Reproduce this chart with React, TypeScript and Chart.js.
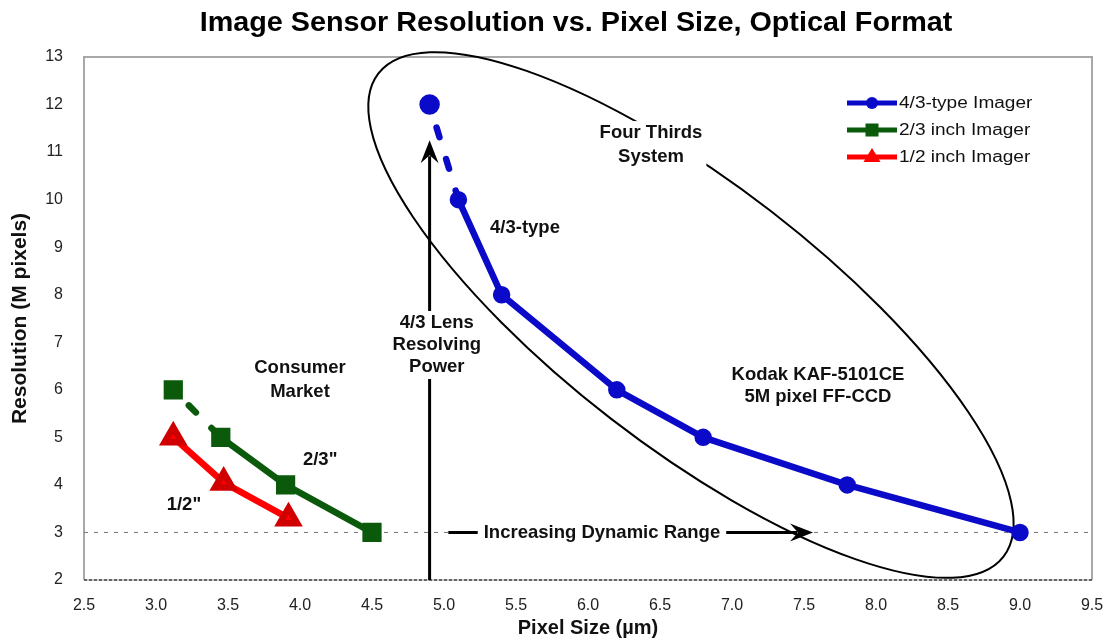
import React, { useEffect, useRef } from 'react';
import { Chart, registerables } from 'chart.js';

Chart.register(...registerables);

// ---------- data ----------
const titleText = 'Image Sensor Resolution vs. Pixel Size, Optical Format';
const xAxisTitle = 'Pixel Size (\u00b5m)';
const yAxisTitle = 'Resolution (M pixels)';
const xRange = [2.5, 9.5];
const yRange = [2, 13];
const xStep = 0.5;
const yStep = 1;

const seriesNames = ['4/3-type Imager', '2/3 inch Imager', '1/2 inch Imager'];
const seriesColors = ['#0a0ac8', '#0b5a0b', '#ff0000'];

const pixelSize43 = [4.9, 5.1, 5.4, 6.2, 6.8, 7.8, 9.0];
const resolution43 = [12, 10, 8, 6, 5, 4, 3];

const pixelSize23 = [3.12, 3.45, 3.9, 4.5];
const resolution23 = [6, 5, 4, 3];

const pixelSize12 = [3.12, 3.47, 3.92];
const resolution12 = [5, 4.05, 3.3];

const FONT = '"Liberation Sans", Arial, Helvetica, sans-serif';
const PLOT_RIGHT = 1092;

function drawText(
  ctx: CanvasRenderingContext2D,
  s: string,
  x: number,
  y: number,
  size: number,
  bold: boolean,
  sx = 1,
  align: CanvasTextAlign = 'center',
  color = '#111'
) {
  ctx.save();
  ctx.font = `${bold ? 'bold ' : ''}${size}px ${FONT}`;
  ctx.fillStyle = color;
  ctx.textAlign = align;
  ctx.textBaseline = 'middle';
  ctx.translate(x, y);
  ctx.scale(sx, 1);
  ctx.fillText(s, 0, 0);
  ctx.restore();
}

function drawLabel(
  ctx: CanvasRenderingContext2D,
  lines: string[],
  cx: number,
  cy: number,
  gap: number,
  withBox: boolean,
  padX = 5
) {
  const size = 18.5;
  ctx.save();
  ctx.font = `bold ${size}px ${FONT}`;
  if (withBox) {
    const w = Math.max(...lines.map((l) => ctx.measureText(l).width)) + padX * 2;
    const top = cy - 12;
    const bottom = cy + gap * (lines.length - 1) + 12;
    ctx.fillStyle = '#ffffff';
    ctx.fillRect(cx - w / 2, top, w, bottom - top);
  }
  ctx.restore();
  lines.forEach((l, i) => drawText(ctx, l, cx, cy + i * gap, size, true));
}

function arrowHead(ctx: CanvasRenderingContext2D, tx: number, ty: number, angle: number) {
  const L = 23, W = 9, N = 15;
  ctx.save();
  ctx.translate(tx, ty);
  ctx.rotate(angle);
  ctx.fillStyle = '#000';
  ctx.beginPath();
  ctx.moveTo(0, 0);
  ctx.lineTo(-L, -W);
  ctx.lineTo(-N, 0);
  ctx.lineTo(-L, W);
  ctx.closePath();
  ctx.fill();
  ctx.restore();
}

function marker(ctx: CanvasRenderingContext2D, kind: string, x: number, y: number, color: string) {
  ctx.save();
  ctx.fillStyle = color;
  ctx.beginPath();
  if (kind === 'circle') {
    ctx.arc(x, y, 6, 0, Math.PI * 2);
  } else if (kind === 'rect') {
    ctx.rect(x - 6.5, y - 6.5, 13, 13);
  } else {
    ctx.moveTo(x, y - 9);
    ctx.lineTo(x + 8.5, y + 5);
    ctx.lineTo(x - 8.5, y + 5);
    ctx.closePath();
  }
  ctx.fill();
  ctx.restore();
}

const annotPlugin = {
  id: 'annotations',
  afterLayout(chart: any) {
    // pin the plot's right edge (tick-label overhang would otherwise shrink it)
    const xs = chart.scales.x;
    xs.right = PLOT_RIGHT;
    xs.width = PLOT_RIGHT - xs.left;
    xs.configure();
    chart.chartArea.right = PLOT_RIGHT;
    chart.chartArea.width = PLOT_RIGHT - chart.chartArea.left;
  },
  beforeDatasetsDraw(chart: any) {
    const { ctx, chartArea: ca, scales } = chart;
    const X = (v: number) => scales.x.getPixelForValue(v);
    const Y = (v: number) => scales.y.getPixelForValue(v);
    ctx.save();
    // frame
    ctx.strokeStyle = '#a8a8a8';
    ctx.lineWidth = 2;
    ctx.beginPath();
    ctx.moveTo(ca.left, ca.bottom);
    ctx.lineTo(ca.left, ca.top);
    ctx.lineTo(ca.right, ca.top);
    ctx.lineTo(ca.right, ca.bottom);
    ctx.stroke();
    ctx.strokeStyle = '#cccccc';
    ctx.beginPath();
    ctx.moveTo(ca.left, ca.bottom);
    ctx.lineTo(ca.right, ca.bottom);
    ctx.stroke();
    ctx.strokeStyle = '#444';
    ctx.lineWidth = 1.5;
    ctx.setLineDash([3, 2]);
    ctx.beginPath();
    ctx.moveTo(ca.left, ca.bottom);
    ctx.lineTo(ca.right, ca.bottom);
    ctx.stroke();
    // reference line at 3 M pixels
    ctx.strokeStyle = '#777';
    ctx.lineWidth = 1;
    ctx.setLineDash([4, 6]);
    ctx.beginPath();
    ctx.moveTo(ca.left, Y(3));
    ctx.lineTo(ca.right, Y(3));
    ctx.stroke();
    ctx.setLineDash([]);

    // Four Thirds ellipse
    ctx.strokeStyle = '#000';
    ctx.lineWidth = 2;
    ctx.beginPath();
    ctx.ellipse(X(6.715), Y(7.574), 395, 131, (37.7 * Math.PI) / 180, 0, Math.PI * 2);
    ctx.stroke();

    // vertical arrow: lens resolving power
    ctx.lineWidth = 3;
    ctx.beginPath();
    ctx.moveTo(X(4.9), ca.bottom);
    ctx.lineTo(X(4.9), Y(11.25) + 16);
    ctx.stroke();
    arrowHead(ctx, X(4.9), Y(11.25), -Math.PI / 2);

    // horizontal arrow: dynamic range
    ctx.beginPath();
    ctx.moveTo(X(5.03), Y(3));
    ctx.lineTo(X(7.5625) - 16, Y(3));
    ctx.stroke();
    arrowHead(ctx, X(7.5625), Y(3), 0);
    ctx.restore();

    // labels
    drawLabel(ctx, ['Four Thirds', 'System'], X(6.4375), Y(11.4), 24, true, 4);
    drawLabel(ctx, ['4/3 Lens', 'Resolving', 'Power'], X(4.95), Y(7.405), 22, true, 4);
    drawLabel(ctx, ['Increasing Dynamic Range'], X(6.097), Y(3), 0, true, 6);
    drawLabel(ctx, ['4/3-type'], X(5.5625), Y(9.4), 0, false);
    drawLabel(ctx, ['Consumer', 'Market'], X(4.0), Y(6.46), 24, false);
    drawLabel(ctx, ['2/3"'], X(4.14), Y(4.52), 0, false);
    drawLabel(ctx, ['1/2"'], X(3.194), Y(3.58), 0, false);
    drawLabel(ctx, ['Kodak KAF-5101CE', '5M pixel FF-CCD'], X(7.597), Y(6.31), 22, false);
  },
  afterDraw(chart: any) {
    const { ctx } = chart;
    // title
    drawText(ctx, titleText, 576, 24, 27, true, 1.065, 'center', '#000');
    // legend
    const kinds = ['circle', 'rect', 'triangle'];
    seriesNames.forEach((name, i) => {
      const y = 103 + i * 27;
      ctx.save();
      ctx.strokeStyle = seriesColors[i];
      ctx.lineWidth = 5;
      ctx.beginPath();
      ctx.moveTo(847, y);
      ctx.lineTo(897, y);
      ctx.stroke();
      ctx.restore();
      marker(ctx, kinds[i], 872, y, seriesColors[i]);
      drawText(ctx, name, 899, y + 1, 16, false, 1.19, 'left', '#111');
    });
  },
};

function pts(xs: number[], ys: number[]) {
  return xs.map((x, i) => ({ x, y: ys[i] }));
}

export default function App() {
  const ref = useRef<HTMLCanvasElement>(null);
  useEffect(() => {
    const canvas = ref.current;
    if (!canvas) return;
    const chart = new Chart(canvas, {
      type: 'line',
      data: {
        datasets: [
          {
            label: seriesNames[0],
            data: pts(pixelSize43, resolution43),
            borderColor: seriesColors[0],
            backgroundColor: seriesColors[0],
            pointBackgroundColor: seriesColors[0],
            pointBorderColor: seriesColors[0],
            borderWidth: 6.5,
            pointRadius: (c: any) => (c.dataIndex === 0 ? 7 : 5.5),
            pointStyle: 'circle',
            borderCapStyle: 'round',
            borderJoinStyle: 'round',
            tension: 0,
            segment: {
              borderDash: (c: any) => (c.p0DataIndex === 0 ? [10, 23] : []),
              borderDashOffset: (c: any) => (c.p0DataIndex === 0 ? 9 : 0),
            },
          },
          {
            label: seriesNames[1],
            data: pts(pixelSize23, resolution23),
            borderColor: seriesColors[1],
            backgroundColor: seriesColors[1],
            pointBackgroundColor: seriesColors[1],
            pointBorderColor: seriesColors[1],
            borderWidth: 6.5,
            pointRadius: 9,
            pointStyle: 'rect',
            borderCapStyle: 'round',
            borderJoinStyle: 'round',
            tension: 0,
            segment: {
              borderDash: (c: any) => (c.p0DataIndex === 0 ? [10, 22] : []),
              borderDashOffset: (c: any) => (c.p0DataIndex === 0 ? 10 : 0),
            },
          },
          {
            label: seriesNames[2],
            data: pts(pixelSize12, resolution12),
            borderColor: seriesColors[2],
            backgroundColor: seriesColors[2],
            pointBackgroundColor: seriesColors[2],
            pointBorderColor: '#d00000',
            borderWidth: 6.5,
            pointRadius: 10,
            pointStyle: 'triangle',
            borderJoinStyle: 'round',
            tension: 0,
          },
        ],
      },
      options: {
        responsive: false,
        animation: false,
        devicePixelRatio: 1,
        layout: { padding: { top: 57, right: 0, left: 0, bottom: 0 } },
        plugins: {
          legend: { display: false },
          title: { display: false },
          tooltip: { enabled: false },
        },
        scales: {
          x: {
            type: 'linear',
            min: xRange[0],
            max: xRange[1],
            ticks: {
              stepSize: xStep,
              padding: 16,
              color: '#222',
              font: { family: FONT, size: 16 },
              callback: (v: any) => Number(v).toFixed(1),
            },
            grid: { display: false, drawTicks: false },
            border: { display: false },
            title: {
              display: true,
              text: xAxisTitle,
              color: '#111',
              font: { family: FONT, size: 20, weight: 'bold' },
              padding: { top: 0, bottom: 2 },
            },
            afterFit: (s: any) => {
              s.height = 62;
            },
          },
          y: {
            type: 'linear',
            min: yRange[0],
            max: yRange[1],
            ticks: {
              stepSize: yStep,
              padding: 21,
              color: '#222',
              font: { family: FONT, size: 16 },
            },
            grid: { display: false, drawTicks: false },
            border: { display: false },
            title: {
              display: true,
              text: yAxisTitle,
              color: '#111',
              font: { family: FONT, size: 21, weight: 'bold' },
              padding: { top: 8, bottom: 0 },
            },
            afterFit: (s: any) => {
              s.width = 84;
            },
          },
        },
      },
      plugins: [annotPlugin],
    } as any);
    return () => chart.destroy();
  }, []);
  return (
    <div
      style={{
        position: 'fixed',
        left: 0,
        top: 0,
        width: 1104,
        height: 642,
        overflow: 'hidden',
        background: '#fff',
      }}
    >
      <canvas ref={ref} width={1104} height={642} style={{ display: 'block' }} />
    </div>
  );
}
